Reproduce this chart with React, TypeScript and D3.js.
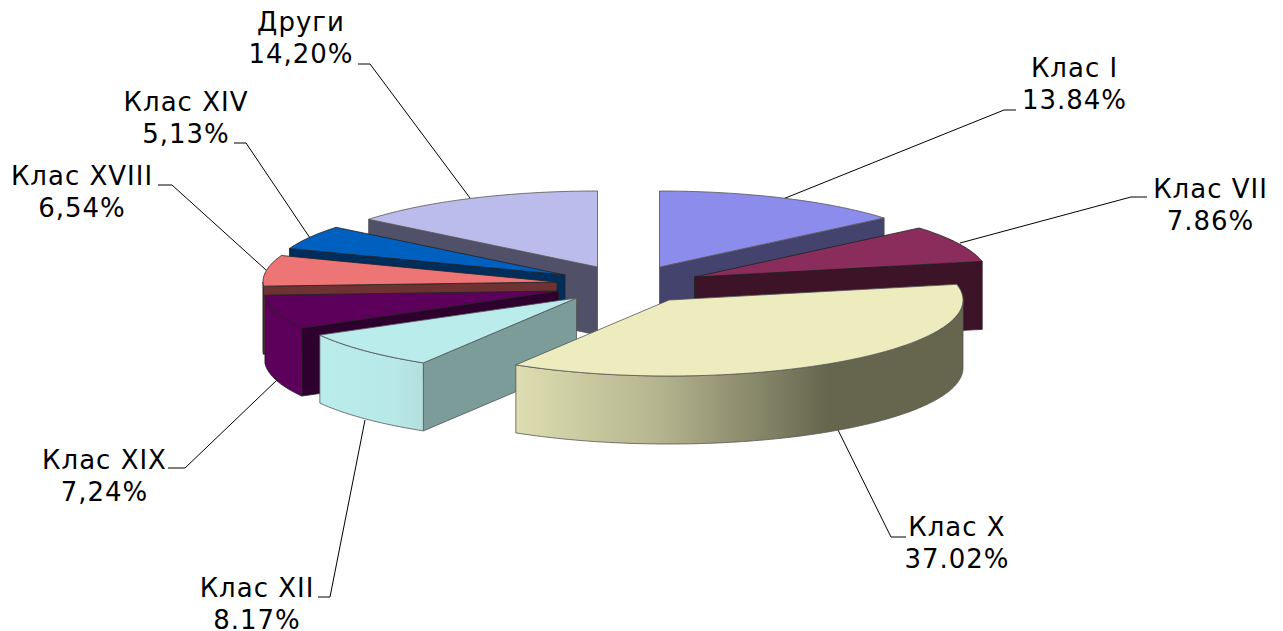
import React from "react";
import * as d3 from "d3";

// ---- data ----
const categories = ["Клас I", "Клас VII", "Клас X", "Клас XII", "Клас XIX", "Клас XVIII", "Клас XIV", "Други"];
const shares = [13.84, 7.86, 37.02, 8.17, 7.24, 6.54, 5.13, 14.2];
const shareLabels = ["13.84%", "7.86%", "37.02%", "8.17%", "7,24%", "6,54%", "5,13%", "14,20%"];

// ---- styles ----
const topColours = ["#8C8CEC", "#8B2D5C", "#ECECBE", "#BBECEC", "#5C005C", "#EE7575", "#0060C0", "#BBBBEC"];
const sideColours = ["#43436E", "#3D1328", "#66664F", "#7C9C9A", "#2E002E", "#6E3232", "#002E5C", "#505068"];

// ---- layout ----
const W = 1283;
const H = 631;
const RX = 294;
const RY = 76;
const DEPTH = 68;
const apexX = [659.5, 694.5, 669, 576.5, 558.5, 557, 565, 597.5];
const apexY = [267, 277, 300, 298, 291, 282, 275, 267];
const paintOrder = [7, 6, 5, 4, 3, 0, 1, 2];
const labelX = [1074.5, 1210.5, 957, 257, 104.5, 82, 186, 301];
const labelY = [77, 198, 536, 597, 469, 185, 111, 31];
const leaders: [number, number][][] = [
  [[1016, 110], [1004, 110], [783, 199]],
  [[1147, 197], [1131, 197], [960, 243]],
  [[906, 537], [891, 537], [838, 430]],
  [[318, 597], [330, 597], [365, 420]],
  [[168, 468], [185, 468], [277, 380]],
  [[158, 185], [172, 185], [266, 270]],
  [[234, 143], [246, 143], [310, 238]],
  [[358, 64], [370, 64], [470, 198]],
];

const pieAngles = d3.pie<number>().sort(null).value((d) => d)(shares);
const scaleX = d3.scaleLinear().domain([-1, 1]).range([-RX, RX]);
const scaleY = d3.scaleLinear().domain([-1, 1]).range([-RY, RY]);
const pathLine = d3.line<[number, number]>();

function rim(i: number, a0: number, a1: number, dy = 0): [number, number][] {
  const n = Math.max(2, Math.ceil(Math.abs(a1 - a0) / 0.02));
  return d3.range(n + 1).map((k) => {
    const a = a0 + ((a1 - a0) * k) / n;
    return [apexX[i] + scaleX(Math.sin(a)), apexY[i] + scaleY(-Math.cos(a)) + dy] as [number, number];
  });
}

function Slice({ i }: { i: number }) {
  const { startAngle: a0, endAngle: a1 } = pieAngles[i];
  const ax = apexX[i];
  const ay = apexY[i];
  const [s] = rim(i, a0, a0);
  const [e] = rim(i, a1, a1);
  const quad = (p: [number, number]) =>
    pathLine([[ax, ay], p, [p[0], p[1] + DEPTH], [ax, ay + DEPTH]])! + "Z";
  const top = pathLine([[ax, ay], ...rim(i, a0, a1)])! + "Z";
  const wa0 = Math.max(a0, Math.PI / 2);
  const wa1 = Math.min(a1, (3 * Math.PI) / 2);
  const wall = wa1 > wa0 ? pathLine([...rim(i, wa0, wa1), ...rim(i, wa1, wa0, DEPTH)])! + "Z" : null;
  const wallFill = i === 2 ? "url(#wallX)" : i === 3 ? "url(#wallXII)" : topColours[i];
  const edge = i === 2 || i === 3 || i === 7 || i === 0 ? "#555" : "#222";
  const sideProps = { fill: sideColours[i], stroke: edge, strokeWidth: 0.8 };
  return (
    <g strokeLinejoin="round">
      {Math.sin(a0) < 0 && <path d={quad(s)} {...sideProps} />}
      {Math.sin(a1) > 0 && <path d={quad(e)} {...sideProps} />}
      {wall && <path d={wall} fill={wallFill} stroke={edge} strokeWidth={0.8} />}
      <path d={top} fill={topColours[i]} stroke={edge} strokeWidth={0.8} />
    </g>
  );
}

export default function App() {
  return (
    <svg width={W} height={H} style={{ position: "absolute", left: 0, top: 0, background: "#fff" }}>
      <defs>
        <linearGradient id="wallX" gradientUnits="userSpaceOnUse" x1={516} x2={962} y1={0} y2={0}>
          <stop offset="0" stopColor="#DEDEB2" />
          <stop offset="0.32" stopColor="#B4B48E" />
          <stop offset="0.7" stopColor="#66664F" />
          <stop offset="1" stopColor="#66664F" />
        </linearGradient>
        <linearGradient id="wallXII" gradientUnits="userSpaceOnUse" x1={319} x2={423} y1={0} y2={0}>
          <stop offset="0" stopColor="#BBECEC" />
          <stop offset="0.7" stopColor="#B8E9E9" />
          <stop offset="1" stopColor="#B4DEDE" />
        </linearGradient>
      </defs>
      {leaders.map((pts, i) => (
        <path key={i} d={pathLine(pts)!} fill="none" stroke="#000" strokeWidth={1} />
      ))}
      {paintOrder.map((i) => (
        <Slice key={i} i={i} />
      ))}
      {categories.map((c, i) => (
        <text
          key={c}
          x={labelX[i]}
          y={labelY[i]}
          textAnchor="middle"
          fontFamily="'DejaVu Sans', Verdana, sans-serif"
          fontSize={26}
          letterSpacing={1}
          fill="#000"
        >
          <tspan x={labelX[i]}>{c}</tspan>
          <tspan x={labelX[i]} dy={32}>
            {shareLabels[i]}
          </tspan>
        </text>
      ))}
    </svg>
  );
}
